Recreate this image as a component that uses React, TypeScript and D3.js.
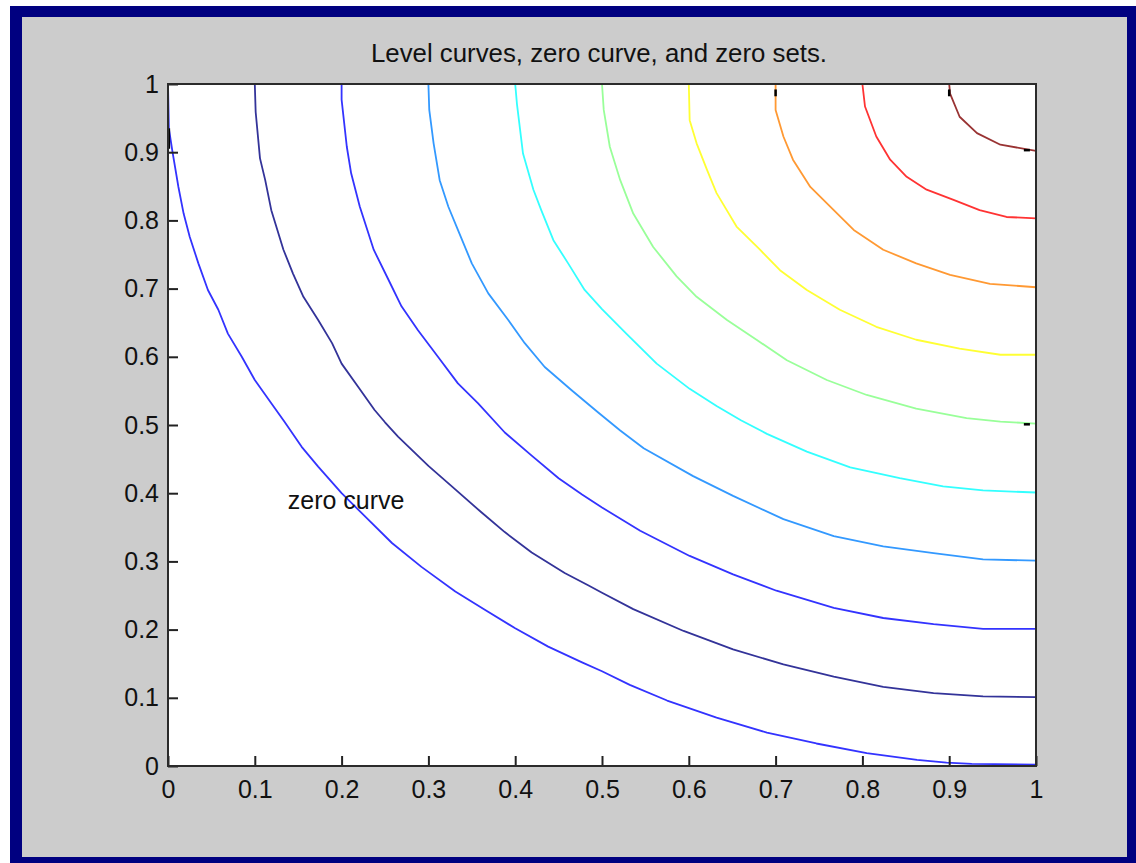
import React, { useEffect, useRef } from "react";
import * as d3 from "d3";

type Pt = [number, number];

// level values and the colour each contour is drawn with
const levels = [0, 0.1, 0.2, 0.3, 0.4, 0.5, 0.6, 0.7, 0.8, 0.9];
const levelColors = [
  "#3333ff", "#333399", "#3333ff", "#3399ff", "#33ffff",
  "#99ff99", "#ffff33", "#ff9933", "#ff3333", "#993333"
];

const tickValues = [0, 0.1, 0.2, 0.3, 0.4, 0.5, 0.6, 0.7, 0.8, 0.9, 1];

// points (x, y)
const zeroCurve: Pt[] = [
  [0, 1], [0.001, 0.935], [0.005, 0.902], [0.012, 0.849], [0.018, 0.81],
  [0.025, 0.776], [0.035, 0.737], [0.046, 0.698], [0.058, 0.669], [0.069, 0.634],
  [0.085, 0.6], [0.1, 0.566], [0.119, 0.532], [0.134, 0.505], [0.154, 0.468],
  [0.173, 0.439], [0.2, 0.4], [0.227, 0.366], [0.258, 0.327], [0.292, 0.292],
  [0.331, 0.256], [0.365, 0.229], [0.4, 0.202], [0.438, 0.175], [0.477, 0.152],
  [0.5, 0.139], [0.532, 0.119], [0.575, 0.096], [0.632, 0.071], [0.69, 0.049],
  [0.747, 0.033], [0.805, 0.019], [0.863, 0.009], [0.897, 0.005], [0.926, 0.003],
  [1, 0.002]
];
const curve01: Pt[] = [
  [0.1, 1], [0.101, 0.959], [0.106, 0.891], [0.112, 0.859], [0.119, 0.815],
  [0.133, 0.757], [0.144, 0.722], [0.156, 0.688], [0.173, 0.654], [0.189, 0.62],
  [0.2, 0.59], [0.219, 0.556], [0.238, 0.522], [0.25, 0.504], [0.265, 0.483],
  [0.3, 0.44], [0.327, 0.41], [0.361, 0.372], [0.388, 0.343], [0.419, 0.313],
  [0.457, 0.283], [0.484, 0.265], [0.5, 0.254], [0.536, 0.23], [0.594, 0.198],
  [0.651, 0.171], [0.709, 0.149], [0.767, 0.131], [0.824, 0.116], [0.882, 0.107],
  [0.939, 0.102], [1, 0.101]
];
const curve02: Pt[] = [
  [0.2, 1], [0.2, 0.977], [0.206, 0.908], [0.211, 0.869], [0.221, 0.82],
  [0.237, 0.757], [0.254, 0.713], [0.269, 0.674], [0.288, 0.639], [0.311, 0.6],
  [0.334, 0.561], [0.357, 0.532], [0.388, 0.489], [0.419, 0.455],
  [0.45, 0.422], [0.477, 0.398], [0.5, 0.379], [0.544, 0.345], [0.601, 0.308],
  [0.651, 0.281], [0.701, 0.257], [0.767, 0.232], [0.824, 0.217], [0.882, 0.208],
  [0.939, 0.201], [1, 0.201]
];
const curve03: Pt[] = [
  [0.3, 1], [0.301, 0.962], [0.306, 0.913], [0.313, 0.859], [0.323, 0.82],
  [0.334, 0.786], [0.35, 0.737], [0.369, 0.693], [0.392, 0.654], [0.411, 0.62],
  [0.434, 0.585], [0.465, 0.551], [0.496, 0.518], [0.521, 0.492],
  [0.548, 0.466], [0.605, 0.425], [0.651, 0.396], [0.709, 0.362], [0.767, 0.337],
  [0.824, 0.322], [0.882, 0.312], [0.939, 0.303], [1, 0.301]
];
const curve04: Pt[] = [
  [0.4, 1], [0.402, 0.971], [0.409, 0.898], [0.421, 0.845], [0.43, 0.815],
  [0.444, 0.771], [0.461, 0.737], [0.48, 0.698], [0.5, 0.67], [0.528, 0.634],
  [0.563, 0.59], [0.601, 0.553], [0.632, 0.528], [0.66, 0.507], [0.69, 0.487],
  [0.736, 0.461], [0.786, 0.438], [0.843, 0.422], [0.893, 0.41], [0.939, 0.404],
  [1, 0.401]
];
const curve05: Pt[] = [
  [0.5, 1], [0.502, 0.962], [0.509, 0.908], [0.521, 0.859], [0.536, 0.81],
  [0.559, 0.761], [0.586, 0.718], [0.609, 0.688], [0.644, 0.654], [0.678, 0.625],
  [0.713, 0.595], [0.759, 0.566], [0.805, 0.544], [0.862, 0.524], [0.92, 0.51],
  [0.959, 0.505], [1, 0.502]
];
const curve06: Pt[] = [
  [0.6, 1], [0.601, 0.947], [0.609, 0.913], [0.621, 0.874], [0.632, 0.84],
  [0.655, 0.791], [0.682, 0.757], [0.705, 0.727], [0.736, 0.698], [0.774, 0.669],
  [0.816, 0.644], [0.862, 0.625], [0.912, 0.612], [0.959, 0.603], [1, 0.603]
];
const curve07: Pt[] = [
  [0.7, 1], [0.7, 0.962], [0.709, 0.923], [0.72, 0.889], [0.74, 0.849],
  [0.767, 0.815], [0.79, 0.786], [0.824, 0.757], [0.862, 0.737], [0.901, 0.72],
  [0.947, 0.707], [1, 0.702]
];
const curve08: Pt[] = [
  [0.8, 1], [0.803, 0.967], [0.816, 0.923], [0.832, 0.889], [0.851, 0.864],
  [0.874, 0.845], [0.905, 0.83], [0.935, 0.815], [0.966, 0.805], [1, 0.803]
];
const curve09: Pt[] = [
  [0.9, 1], [0.901, 0.986], [0.912, 0.952], [0.932, 0.928], [0.959, 0.911],
  [1, 0.902]
];

// small black marks of the zero sets
const zeroSetMarks: [Pt, Pt][] = [
  [[0.001, 0.935], [0.001, 0.905]],
  [[0.7, 0.992], [0.7, 0.982]],
  [[0.9, 0.992], [0.9, 0.982]],
  [[0.986, 0.903], [0.993, 0.903]],
  [[0.986, 0.501], [0.993, 0.501]]
];

const titleText = "Level curves, zero curve, and zero sets.";
const labelText = "zero curve";
const labelPos: Pt = [0.138, 0.387];

const curves = [zeroCurve, curve01, curve02, curve03, curve04, curve05, curve06, curve07, curve08, curve09];

const FONT = "'Liberation Sans', Arial, Helvetica, sans-serif";

export default function App() {
  const xAxisRef = useRef<SVGGElement>(null);
  const yAxisRef = useRef<SVGGElement>(null);

  const width = 1136, height = 863;
  const plot = { left: 168, right: 1036, top: 84, bottom: 766 };

  const x = d3.scaleLinear().domain([0, 1]).range([plot.left, plot.right]);
  const y = d3.scaleLinear().domain([0, 1]).range([plot.bottom, plot.top]);

  const line = d3
    .line<Pt>()
    .x(d => x(d[0]))
    .y(d => y(d[1]));

  useEffect(() => {
    const fmt = d3.format("~g");
    const xa = d3.select(xAxisRef.current!);
    xa.selectAll("*").remove();
    xa.call(
      d3.axisBottom(x).tickValues(tickValues).tickFormat(d => fmt(d as number))
        .tickSizeInner(-10).tickSizeOuter(0).tickPadding(14)
    );
    const ya = d3.select(yAxisRef.current!);
    ya.selectAll("*").remove();
    ya.call(
      d3.axisLeft(y).tickValues(tickValues).tickFormat(d => fmt(d as number))
        .tickSizeInner(-10).tickSizeOuter(0).tickPadding(9)
    );
    [xa, ya].forEach(g => {
      g.select(".domain").remove();
      g.selectAll(".tick line").attr("stroke", "#222").attr("stroke-width", 2);
      g.selectAll(".tick text")
        .attr("fill", "#111")
        .style("font-family", FONT)
        .style("font-size", "25px");
    });
  });

  return (
    <svg
      width={width}
      height={height}
      style={{ position: "absolute", left: 0, top: 0, display: "block" }}
    >
      <rect x={0} y={0} width={width} height={height} fill="#ffffff" />
      <rect x={10} y={6} width={width - 10} height={height - 6} fill="#000080" />
      <rect x={22} y={17} width={1105} height={840} fill="#cccccc" />
      <rect
        x={plot.left}
        y={plot.top}
        width={plot.right - plot.left}
        height={plot.bottom - plot.top}
        fill="#ffffff"
      />
      <g>
        {curves.map((c, i) => (
          <path
            key={levels[i]}
            d={line(c) || ""}
            fill="none"
            stroke={levelColors[i]}
            strokeWidth={1.8}
            strokeLinejoin="round"
          />
        ))}
      </g>
      <g>
        {zeroSetMarks.map((m, i) => (
          <line
            key={i}
            x1={x(m[0][0])}
            y1={y(m[0][1])}
            x2={x(m[1][0])}
            y2={y(m[1][1])}
            stroke="#000"
            strokeWidth={2.5}
          />
        ))}
      </g>
      <g ref={xAxisRef} transform={`translate(0,${plot.bottom})`} />
      <g ref={yAxisRef} transform={`translate(${plot.left},0)`} />
      <rect
        x={plot.left}
        y={plot.top}
        width={plot.right - plot.left}
        height={plot.bottom - plot.top}
        fill="none"
        stroke="#2b2b2b"
        strokeWidth={2}
      />
      <text
        x={599}
        y={62}
        textAnchor="middle"
        fill="#111"
        style={{ fontFamily: FONT, fontSize: "25.8px" }}
      >
        {titleText}
      </text>
      <text
        x={x(labelPos[0])}
        y={y(labelPos[1])}
        dominantBaseline="middle"
        fill="#111"
        style={{ fontFamily: FONT, fontSize: "25px" }}
      >
        {labelText}
      </text>
    </svg>
  );
}
